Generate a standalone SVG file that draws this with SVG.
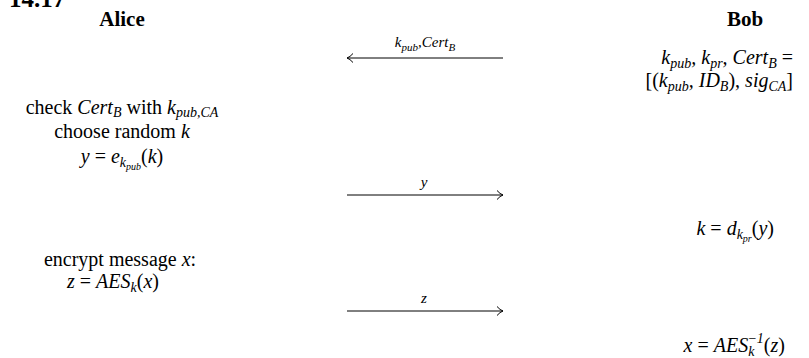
<svg xmlns="http://www.w3.org/2000/svg" width="809" height="358" viewBox="0 0 809 358">
<style>
text{font-family:"Liberation Serif","Times New Roman",serif;fill:#000;}
.t{font-size:20px;}
.h{font-size:21px;font-weight:bold;}
.i{font-style:italic;}
.s{font-size:14px;font-style:italic;}
.ss{font-size:10px;font-style:italic;}
.lbl{font-size:15px;font-style:italic;}
.ls{font-size:11px;font-style:italic;}
.c{stroke:#000;stroke-width:1;fill:none;}
</style>
<defs>
<marker id="ah" markerUnits="userSpaceOnUse" markerWidth="12" markerHeight="12" viewBox="-8 -6 10 12" refX="0" refY="0" orient="auto">
<path d="M -6 -4.5 Q -3 -1 0 0 Q -3 1 -6 4.5" fill="none" stroke="#000" stroke-width="1"/>
</marker>
</defs>
<text x="9" y="7" style="font-size:25px;font-weight:bold">14.17</text>
<g id="alice">
<text class="h" x="122" y="26" text-anchor="middle">Alice</text>
</g>
<g id="bob">
<text class="h" x="745" y="26" text-anchor="middle">Bob</text>
</g>
<g id="connectors">
<line class="c" x1="503" y1="58" x2="347" y2="58" marker-end="url(#ah)"/>
<text class="lbl" x="425" y="47" text-anchor="middle">k<tspan class="ls" dy="4">pub</tspan><tspan dy="-4">,Cert</tspan><tspan class="ls" dy="4">B</tspan></text>
<line class="c" x1="347" y1="195" x2="503" y2="195" marker-end="url(#ah)"/>
<text class="lbl" x="424" y="187" text-anchor="middle">y</text>
<line class="c" x1="347" y1="311" x2="503" y2="311" marker-end="url(#ah)"/>
<text class="lbl" x="424" y="303" text-anchor="middle">z</text>
</g>
<g id="bob-keys">
<text class="t i" x="793" y="64" text-anchor="end">k<tspan class="s" dy="4">pub</tspan><tspan dy="-4">, k</tspan><tspan class="s" dy="4">pr</tspan><tspan dy="-4">, Cert</tspan><tspan class="s" dy="4">B</tspan><tspan dy="-4" font-style="normal"> =</tspan></text>
<text class="t i" x="793" y="87" text-anchor="end"><tspan font-style="normal">[(</tspan>k<tspan class="s" dy="4">pub</tspan><tspan dy="-4">, ID</tspan><tspan class="s" dy="4">B</tspan><tspan dy="-4" font-style="normal">), </tspan>sig<tspan class="s" dy="4">CA</tspan><tspan dy="-4" font-style="normal">]</tspan></text>
</g>
<g id="alice-check">
<text class="t" x="122" y="114" text-anchor="middle">check <tspan class="i">Cert</tspan><tspan class="s" dy="3">B</tspan><tspan dy="-3"> with </tspan><tspan class="i">k</tspan><tspan class="s" dy="3">pub,CA</tspan></text>
<text class="t" x="122" y="138" text-anchor="middle">choose random <tspan class="i">k</tspan></text>
<text class="t" x="122" y="163" text-anchor="middle"><tspan class="i">y</tspan> = <tspan class="i">e</tspan><tspan class="s" dy="4">k</tspan><tspan class="ss" dy="3">pub</tspan><tspan dy="-7">(</tspan><tspan class="i">k</tspan>)</text>
</g>
<g id="bob-decrypt">
<text class="t" x="774" y="235" text-anchor="end"><tspan class="i">k</tspan> = <tspan class="i">d</tspan><tspan class="s" dy="4">k</tspan><tspan class="ss" dy="3">pr</tspan><tspan dy="-7">(</tspan><tspan class="i">y</tspan>)</text>
</g>
<g id="alice-encrypt">
<text class="t" x="120" y="266" text-anchor="middle">encrypt message <tspan class="i">x</tspan>:</text>
<text class="t" x="113" y="288" text-anchor="middle"><tspan class="i">z</tspan> = <tspan class="i">AES</tspan><tspan class="s" dy="4">k</tspan><tspan dy="-4">(</tspan><tspan class="i">x</tspan>)</text>
</g>
<g id="bob-result">
<text class="t" x="785" y="352" text-anchor="end"><tspan class="i">x</tspan> = <tspan class="i">AES</tspan><tspan class="s" dy="4">k</tspan><tspan class="s" dx="-7" dy="-13">−1</tspan><tspan dy="9">(</tspan><tspan class="i">z</tspan>)</text>
</g>
</svg>
